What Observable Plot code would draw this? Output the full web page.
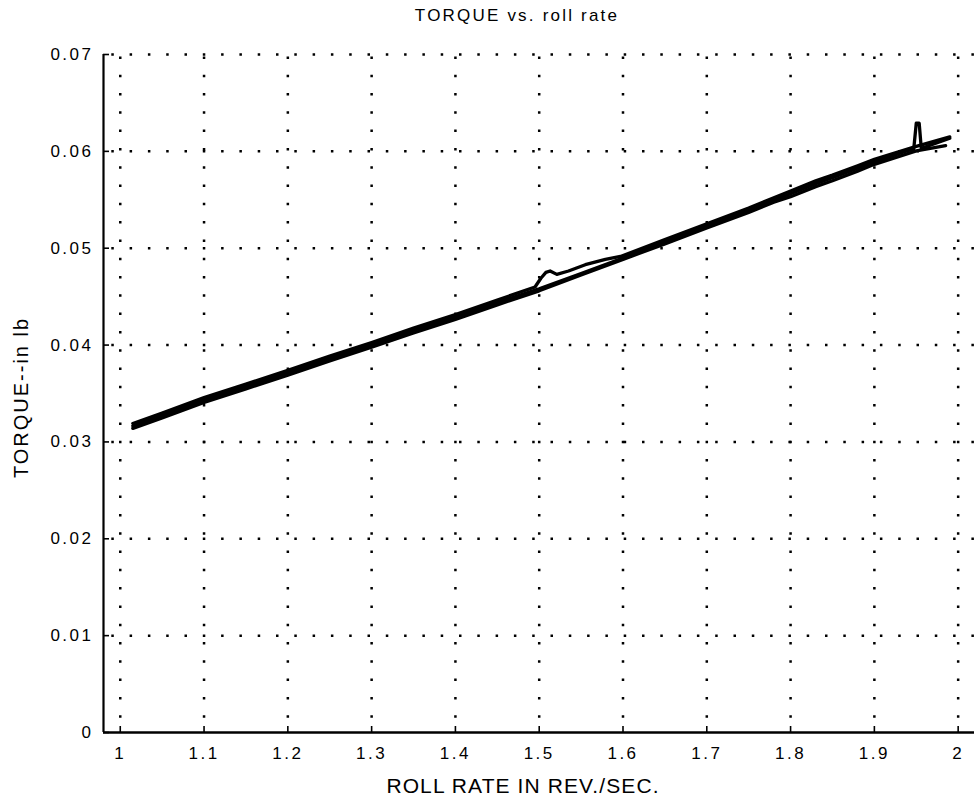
<!DOCTYPE html>
<html>
<head>
<meta charset="utf-8">
<script src="https://cdn.jsdelivr.net/npm/d3@7"></script>
<script src="https://cdn.jsdelivr.net/npm/@observablehq/plot@0.6"></script>
<style>
  body { margin: 0; background: #fff; }
  #chart svg { display: block; background: #fff; font-family: "Liberation Sans", Arial, Helvetica, sans-serif; }
  g[aria-label="x-axis tick label"], g[aria-label="y-axis tick label"] { letter-spacing: 2.5px; }
  .ttl text { letter-spacing: 2.2px; }
  .xlab text { letter-spacing: 1.1px; }
  .ylab text { letter-spacing: 2px; }
</style>
</head>
<body>
<div id="chart"></div>
<script>
// Labels
const titleText = "TORQUE vs. roll rate";
const xLabel = "ROLL RATE IN REV./SEC.";
const yLabel = "TORQUE--in lb";

// Axis ticks and extents
const xTicks = [1, 1.1, 1.2, 1.3, 1.4, 1.5, 1.6, 1.7, 1.8, 1.9, 2];
const yTicks = [0, 0.01, 0.02, 0.03, 0.04, 0.05, 0.06, 0.07];
const xDomain = [0.98, 2.0195];
const yDomain = [0, 0.07];

// Run 1 – rides slightly high, with the excursion just past 1.5 rev/s
const run1Rate = [1.015, 1.05, 1.10, 1.15, 1.20, 1.25, 1.30, 1.35, 1.40, 1.45, 1.495, 1.502, 1.508, 1.513, 1.521, 1.535, 1.555, 1.579, 1.597, 1.65, 1.70, 1.75, 1.78, 1.80, 1.83, 1.85, 1.88, 1.90, 1.95, 1.99];
const run1Torque = [0.03190, 0.03297, 0.03457, 0.03597, 0.03740, 0.03887, 0.04027, 0.04175, 0.04315, 0.04465, 0.04600, 0.04690, 0.04750, 0.04765, 0.04730, 0.04765, 0.04830, 0.04885, 0.04915, 0.05090, 0.05252, 0.05415, 0.05522, 0.05590, 0.05695, 0.05755, 0.05852, 0.05918, 0.06052, 0.06150];

// Run 2 – lower edge of the bundle
const run2Rate = [1.015, 1.05, 1.10, 1.15, 1.20, 1.25, 1.30, 1.35, 1.40, 1.45, 1.50, 1.55, 1.60, 1.65, 1.70, 1.75, 1.78, 1.80, 1.83, 1.85, 1.88, 1.90, 1.95, 1.985];
const run2Torque = [0.03140, 0.03247, 0.03407, 0.03547, 0.03690, 0.03837, 0.03977, 0.04125, 0.04265, 0.04415, 0.04560, 0.04725, 0.04885, 0.05045, 0.05208, 0.05370, 0.05474, 0.05532, 0.05636, 0.05696, 0.05796, 0.05866, 0.06005, 0.06060];

// Run 3 – middle of the bundle, with the spike near 1.95 rev/s
const run3Rate = [1.015, 1.05, 1.10, 1.15, 1.20, 1.25, 1.30, 1.35, 1.40, 1.45, 1.50, 1.55, 1.60, 1.65, 1.70, 1.75, 1.78, 1.80, 1.83, 1.85, 1.88, 1.90, 1.935, 1.947, 1.950, 1.9535, 1.956, 1.97, 1.99];
const run3Torque = [0.03165, 0.03272, 0.03432, 0.03572, 0.03715, 0.03862, 0.04002, 0.04150, 0.04290, 0.04440, 0.04580, 0.04738, 0.04898, 0.05068, 0.05230, 0.05392, 0.05498, 0.05562, 0.05667, 0.05727, 0.05825, 0.05892, 0.05995, 0.06025, 0.06290, 0.06290, 0.06030, 0.06075, 0.06135];

const runs = [
  {name: "run 1", rate: run1Rate, torque: run1Torque},
  {name: "run 2", rate: run2Rate, torque: run2Torque},
  {name: "run 3", rate: run3Rate, torque: run3Torque}
];
const rows = runs.flatMap(r => r.rate.map((x, i) => ({run: r.name, rate: x, torque: r.torque[i]})));

const dotted = {stroke: "#000", strokeWidth: 2.5, strokeDasharray: "2.5,15.8"};
const fontFamily = "'Liberation Sans', Arial, Helvetica, sans-serif";

const chart = Plot.plot({
  width: 974,
  height: 802,
  marginLeft: 103,
  marginRight: 0,
  marginTop: 54,
  marginBottom: 70,
  style: {fontFamily, color: "#000"},
  x: {domain: xDomain},
  y: {domain: yDomain},
  marks: [
    // dotted grid
    Plot.ruleX(xTicks, {y1: yDomain[0], y2: yDomain[1], ...dotted, strokeDashoffset: 4}),
    Plot.ruleY(yTicks.filter(d => d > 0), {x1: xDomain[0], x2: xDomain[1], ...dotted, strokeDashoffset: 10}),
    // torque traces
    Plot.line(rows, {x: "rate", y: "torque", z: "run", stroke: "#000", strokeWidth: 3.3, strokeLinejoin: "round", strokeLinecap: "round"}),
    // axis lines
    Plot.ruleX([xDomain[0]], {stroke: "#000", strokeWidth: 2.2}),
    Plot.ruleY([yDomain[0]], {stroke: "#000", strokeWidth: 2.4}),
    // inward tick marks
    Plot.ruleX(xTicks, {y1: yDomain[0], y2: yDomain[0], insetTop: -6, stroke: "#000", strokeWidth: 1.6}),
    Plot.ruleY(yTicks, {x1: xDomain[0], x2: xDomain[0], insetRight: -6, stroke: "#000", strokeWidth: 1.6}),
    // tick labels
    Plot.axisX({ticks: xTicks, tickSize: 0, tickPadding: 14, tickFormat: d => String(d), fontSize: 17, label: null}),
    Plot.axisY({ticks: yTicks, tickSize: 0, tickPadding: 10, tickFormat: d => String(d), fontSize: 17, label: null}),
    // title and axis labels
    Plot.text([titleText], {frameAnchor: "top", textAnchor: "middle", lineAnchor: "middle", dy: -39, dx: -22, fontSize: 17, className: "ttl"}),
    Plot.text([xLabel], {frameAnchor: "bottom", textAnchor: "middle", lineAnchor: "middle", dy: 54, dx: -16, fontSize: 21, className: "xlab"}),
    Plot.text([yLabel], {frameAnchor: "left", textAnchor: "middle", lineAnchor: "middle", dx: -82, dy: 4, rotate: -90, fontSize: 20, className: "ylab"})
  ]
});
document.getElementById("chart").appendChild(chart);
</script>
</body>
</html>
